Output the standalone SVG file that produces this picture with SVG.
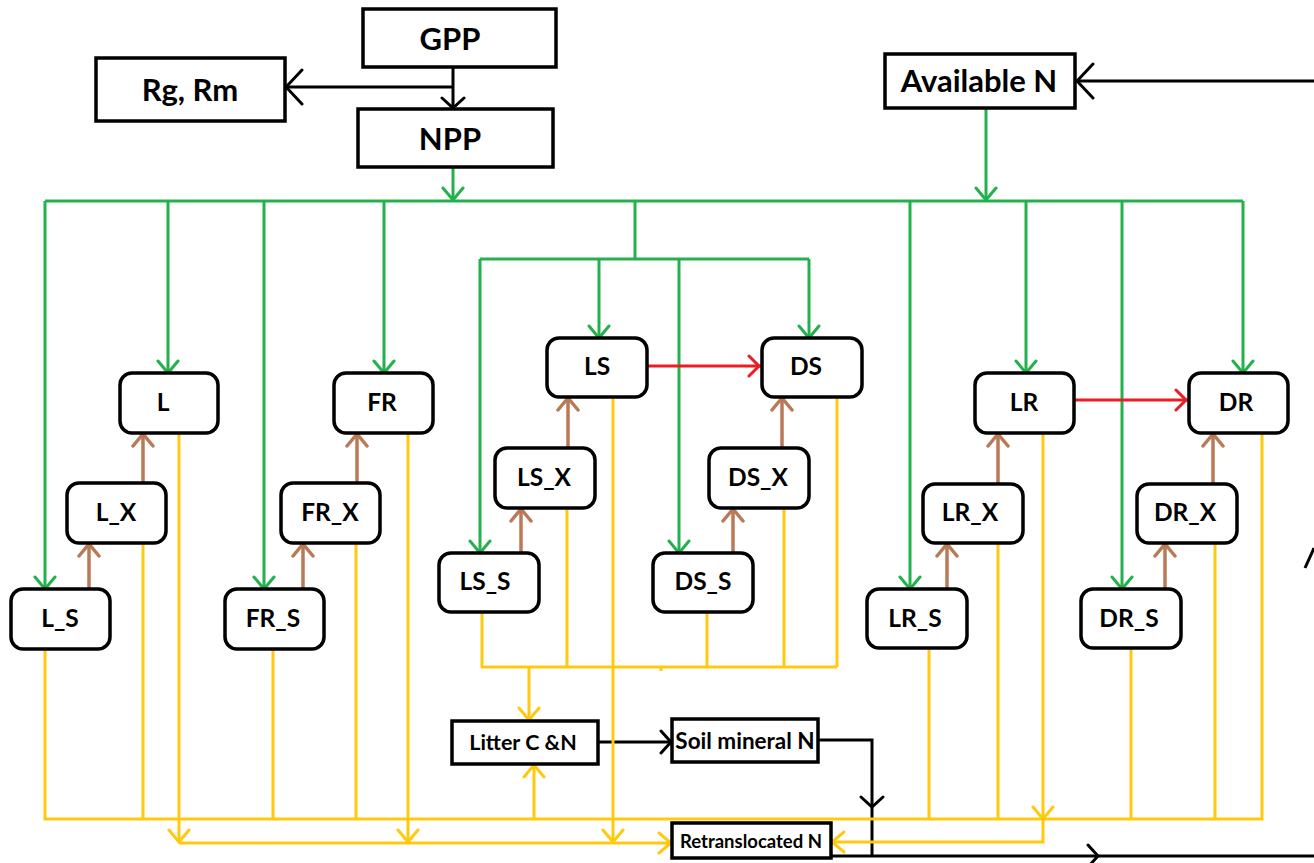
<svg xmlns="http://www.w3.org/2000/svg" width="1314" height="863" viewBox="0 0 1314 863">
<style>
.box{fill:#fff;stroke:#000;stroke-width:3.5}
.node{fill:#fff;stroke:#000;stroke-width:3.5}
.t{font-family:Lato,"Liberation Sans",sans-serif;font-weight:bold;fill:#000;text-anchor:middle}
.big{font-size:31px}
.nl{font-size:24.5px}
.g{stroke:#22b14c;stroke-width:3;fill:none}
.b{stroke:#b97a57;stroke-width:3.5;fill:none}
.r{stroke:#ed1c24;stroke-width:3;fill:none}
.y{stroke:#ffc90e;stroke-width:3;fill:none}
.k{stroke:#000;stroke-width:3;fill:none}
</style>
<defs>
<marker id="mg" viewBox="-2 -13 16 26" refX="12" refY="0" markerWidth="16" markerHeight="26" markerUnits="userSpaceOnUse" orient="auto"><path d="M0,-10 L12,0 L0,10" fill="none" stroke="#22b14c" stroke-width="3" stroke-linecap="round"/></marker>
<marker id="mb" viewBox="-2 -13 16 26" refX="12" refY="0" markerWidth="16" markerHeight="26" markerUnits="userSpaceOnUse" orient="auto"><path d="M0,-10 L12,0 L0,10" fill="none" stroke="#b97a57" stroke-width="3.5" stroke-linecap="round"/></marker>
<marker id="mr" viewBox="-2 -13 16 26" refX="12" refY="0" markerWidth="16" markerHeight="26" markerUnits="userSpaceOnUse" orient="auto"><path d="M0,-10 L10,0 L0,10" fill="none" stroke="#ed1c24" stroke-width="3" stroke-linecap="round"/></marker>
<marker id="my" viewBox="-2 -13 16 26" refX="12" refY="0" markerWidth="16" markerHeight="26" markerUnits="userSpaceOnUse" orient="auto"><path d="M0,-10 L12,0 L0,10" fill="none" stroke="#ffc90e" stroke-width="3" stroke-linecap="round"/></marker>
<marker id="mk" viewBox="-2 -14 16 28" refX="12" refY="0" markerWidth="16" markerHeight="28" markerUnits="userSpaceOnUse" orient="auto"><path d="M2,-11 L12,0 L2,11" fill="none" stroke="#000" stroke-width="3" stroke-linecap="round"/></marker>
<marker id="mkb" viewBox="-2 -20 22 40" refX="18" refY="0" markerWidth="22" markerHeight="40" markerUnits="userSpaceOnUse" orient="auto"><path d="M2,-17 L18,0 L2,17" fill="none" stroke="#000" stroke-width="3" stroke-linecap="round"/></marker>
</defs>

<g id="connectors">
<!-- black -->
<path class="k" d="M453,67 L453,108" marker-end="url(#mk)"/>
<path class="k" d="M453,87 L286,87" marker-end="url(#mkb)"/>
<path class="k" d="M1314,81 L1077,81" marker-end="url(#mkb)"/>
<path class="k" d="M598,742 L671,742" marker-end="url(#mk)"/>
<path class="k" d="M818,740 L872,740 L872,807" marker-end="url(#mk)"/>
<path class="k" d="M872,806 L872,856"/>
<path class="k" d="M831,856 L1098,856" marker-end="url(#mk)"/>
<path class="k" d="M1097,856 L1314,856"/>
<path class="k" d="M1305,568 L1314,548"/>
<!-- green -->
<path class="g" d="M453,167 L453,200" marker-end="url(#mg)"/>
<path class="g" d="M986,108 L986,200" marker-end="url(#mg)"/>
<path class="g" d="M45,201 L1243,201"/>
<path class="g" d="M45,201 L45,589" marker-end="url(#mg)"/>
<path class="g" d="M168,201 L168,373" marker-end="url(#mg)"/>
<path class="g" d="M264,201 L264,589" marker-end="url(#mg)"/>
<path class="g" d="M384,201 L384,373" marker-end="url(#mg)"/>
<path class="g" d="M635,201 L635,259"/>
<path class="g" d="M480,259 L809,259"/>
<path class="g" d="M480,259 L480,553" marker-end="url(#mg)"/>
<path class="g" d="M599,259 L599,338" marker-end="url(#mg)"/>
<path class="g" d="M679,259 L679,553" marker-end="url(#mg)"/>
<path class="g" d="M809,259 L809,338" marker-end="url(#mg)"/>
<path class="g" d="M910,201 L910,589" marker-end="url(#mg)"/>
<path class="g" d="M1026,201 L1026,373" marker-end="url(#mg)"/>
<path class="g" d="M1122,201 L1122,589" marker-end="url(#mg)"/>
<path class="g" d="M1243,201 L1243,373" marker-end="url(#mg)"/>
<!-- red -->
<path class="r" d="M647,366 L761,366" marker-end="url(#mr)"/>
<path class="r" d="M1074,400 L1188,400" marker-end="url(#mr)"/>
<!-- brown -->
<path class="b" d="M89,589 L89,544" marker-end="url(#mb)"/>
<path class="b" d="M143,483 L143,434" marker-end="url(#mb)"/>
<path class="b" d="M303,589 L303,544" marker-end="url(#mb)"/>
<path class="b" d="M357,483 L357,434" marker-end="url(#mb)"/>
<path class="b" d="M521,553 L521,509" marker-end="url(#mb)"/>
<path class="b" d="M568,448 L568,398" marker-end="url(#mb)"/>
<path class="b" d="M733,553 L733,509" marker-end="url(#mb)"/>
<path class="b" d="M782,448 L782,398" marker-end="url(#mb)"/>
<path class="b" d="M947,589 L947,544" marker-end="url(#mb)"/>
<path class="b" d="M998,484 L998,434" marker-end="url(#mb)"/>
<path class="b" d="M1165,589 L1165,544" marker-end="url(#mb)"/>
<path class="b" d="M1213,484 L1213,434" marker-end="url(#mb)"/>
<!-- yellow -->
<path class="y" d="M481,667 L837,667"/>
<path class="y" d="M482,612 L482,667"/>
<path class="y" d="M567,508 L567,667"/>
<path class="y" d="M707,612 L707,667"/>
<path class="y" d="M784,508 L784,667"/>
<path class="y" d="M837,397 L837,667"/>
<path class="y" d="M661,667 L661,671"/>
<path class="y" d="M529,667 L529,720" marker-end="url(#my)"/>
<path class="y" d="M613,397 L613,842" marker-end="url(#my)"/>
<path class="y" d="M45,649 L45,819 L1262,819 L1262,433"/>
<path class="y" d="M143,543 L143,819"/>
<path class="y" d="M273,649 L273,819"/>
<path class="y" d="M356,543 L356,819"/>
<path class="y" d="M929,648 L929,819"/>
<path class="y" d="M998,543 L998,819"/>
<path class="y" d="M1131,648 L1131,819"/>
<path class="y" d="M1215,543 L1215,819"/>
<path class="y" d="M534,819 L534,765" marker-end="url(#my)"/>
<path class="y" d="M179,433 L179,842" marker-end="url(#my)"/>
<path class="y" d="M408,433 L408,842" marker-end="url(#my)"/>
<path class="y" d="M179,843 L671,843" marker-end="url(#my)"/>
<path class="y" d="M1043,433 L1043,819" marker-end="url(#my)"/>
<path class="y" d="M1043,819 L1043,842 L832,842" marker-end="url(#my)"/>
</g>

<g id="GPP"><rect class="box" x="363" y="9" width="193" height="58"/><text class="t big" x="450" y="50">GPP</text></g>
<g id="RgRm"><rect class="box" x="96" y="58" width="189" height="63"/><text class="t big" x="190" y="101">Rg, Rm</text></g>
<g id="NPP"><rect class="box" x="358" y="109" width="195" height="58"/><text class="t big" x="450" y="150">NPP</text></g>
<g id="AvailableN"><rect class="box" x="885" y="54" width="190" height="54"/><text class="t big" x="979" y="92">Available N</text></g>

<g id="L"><rect class="node" x="120" y="373" width="98" height="60" rx="12"/><text class="t nl" x="163" y="411">L</text></g>
<g id="L_X"><rect class="node" x="67" y="483" width="99" height="60" rx="12"/><text class="t nl" x="116" y="521">L_X</text></g>
<g id="L_S"><rect class="node" x="11" y="589" width="99" height="60" rx="12"/><text class="t nl" x="60" y="627">L_S</text></g>
<g id="FR"><rect class="node" x="334" y="373" width="99" height="60" rx="12"/><text class="t nl" x="382" y="411">FR</text></g>
<g id="FR_X"><rect class="node" x="281" y="483" width="99" height="60" rx="12"/><text class="t nl" x="330" y="521">FR_X</text></g>
<g id="FR_S"><rect class="node" x="225" y="589" width="99" height="60" rx="12"/><text class="t nl" x="273" y="627">FR_S</text></g>
<g id="LS"><rect class="node" x="547" y="338" width="100" height="59" rx="12"/><text class="t nl" x="597" y="375">LS</text></g>
<g id="LS_X"><rect class="node" x="495" y="448" width="100" height="60" rx="12"/><text class="t nl" x="544" y="486">LS_X</text></g>
<g id="LS_S"><rect class="node" x="439" y="553" width="100" height="59" rx="12"/><text class="t nl" x="485" y="590">LS_S</text></g>
<g id="DS"><rect class="node" x="762" y="338" width="100" height="59" rx="12"/><text class="t nl" x="806" y="375">DS</text></g>
<g id="DS_X"><rect class="node" x="709" y="448" width="100" height="60" rx="12"/><text class="t nl" x="758" y="486">DS_X</text></g>
<g id="DS_S"><rect class="node" x="653" y="553" width="100" height="59" rx="12"/><text class="t nl" x="703" y="590">DS_S</text></g>
<g id="LR"><rect class="node" x="975" y="373" width="99" height="60" rx="12"/><text class="t nl" x="1024" y="411">LR</text></g>
<g id="LR_X"><rect class="node" x="923" y="484" width="100" height="59" rx="12"/><text class="t nl" x="970" y="521">LR_X</text></g>
<g id="LR_S"><rect class="node" x="867" y="589" width="100" height="59" rx="12"/><text class="t nl" x="915" y="627">LR_S</text></g>
<g id="DR"><rect class="node" x="1189" y="373" width="99" height="60" rx="12"/><text class="t nl" x="1236" y="411">DR</text></g>
<g id="DR_X"><rect class="node" x="1137" y="484" width="100" height="59" rx="12"/><text class="t nl" x="1185" y="521">DR_X</text></g>
<g id="DR_S"><rect class="node" x="1081" y="589" width="100" height="59" rx="12"/><text class="t nl" x="1129" y="627">DR_S</text></g>

<g id="Litter"><rect class="box" x="452" y="721" width="146" height="43"/><text class="t" style="font-size:21.5px" x="523" y="750">Litter C &amp;N</text></g>
<g id="SoilMineralN"><rect class="box" x="672" y="719" width="146" height="43"/><text class="t" style="font-size:22.5px" x="745" y="749">Soil mineral N</text></g>
<g id="RetranslocatedN"><rect class="box" x="672" y="823" width="159" height="35"/><text class="t" style="font-size:18.5px" x="751" y="848">Retranslocated N</text></g>
</svg>
